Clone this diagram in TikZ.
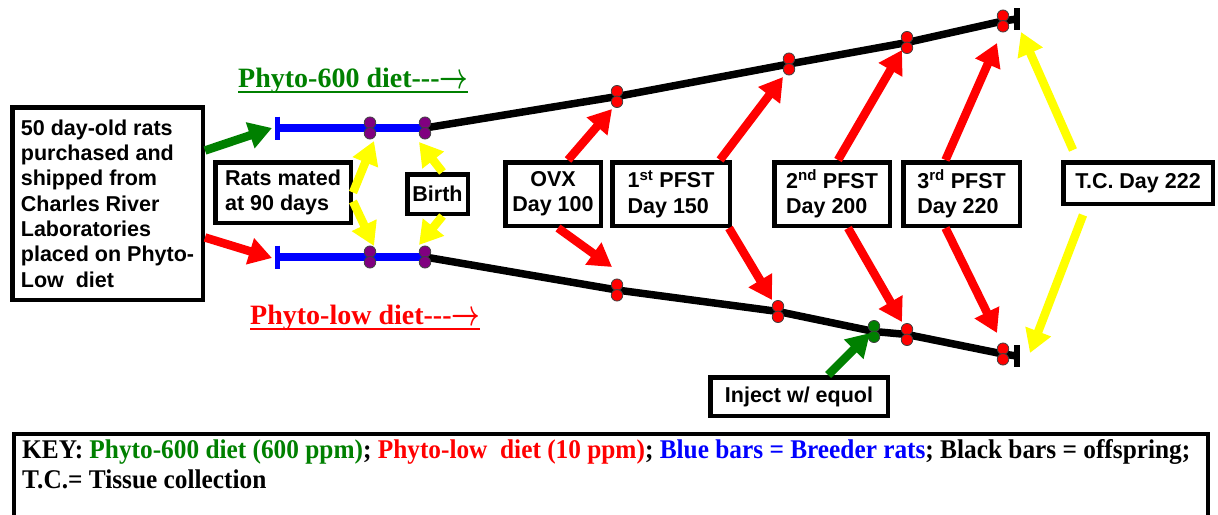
\documentclass[tikz,border=0pt]{standalone}
\usepackage{fontspec}
\setmainfont{Liberation Serif}
\newfontfamily\arialf{Liberation Sans}
\usepackage{graphicx}
\usetikzlibrary{arrows.meta,calc}
\definecolor{dgreen}{RGB}{0,128,0}
\definecolor{dpurple}{RGB}{128,0,128}
\definecolor{pyellow}{RGB}{255,255,0}
\definecolor{pred}{RGB}{255,0,0}
\definecolor{pblue}{RGB}{0,0,255}
\newcommand{\bigarr}{\raisebox{-1pt}{\scalebox{1.0}[1.45]{\boldmath$\rightarrow$}}}
\begin{document}
\begin{tikzpicture}[x=1pt,y=-1pt,
  box/.style={draw, line width=4.5pt, font=\arialf\bfseries\fontsize{21.5}{25.3}\selectfont, inner sep=0pt, align=left},
  fat/.style={line width=8.5pt, -{Triangle[length=23pt,width=26pt]}},
  timeline/.style={line width=7.5pt, line join=round},
  dotn/.style={circle, draw=black!75, line width=0.8pt, inner sep=0pt, minimum size=11.5pt},
  title/.style={inner sep=0pt, anchor=base west, font=\bfseries\fontsize{28}{30}\selectfont}
]
\useasboundingbox (0,0) rectangle (1218,514);

% boxes
\node[box, minimum width=190.5, minimum height=192.5] (left) at (107.5,203.5)
  {50 day-old rats\\purchased and\\shipped from\\Charles River\\Laboratories\\placed on Phyto-\\Low\ \ diet};
\node[box, minimum width=135.5, minimum height=60.5] (rats) at (283,192.5) {Rats mated\\at 90 days};
\node[box, minimum width=60.5, minimum height=39.5] (birth) at (437.5,194) {Birth};
\node[box, align=center, minimum width=95.5, minimum height=63.5] (ovx) at (553,194) {OVX\\Day 100};
\node[box, minimum width=117.5, minimum height=63.5] (p1) at (671,194) {1\textsuperscript{st} PFST\\Day 150};
\node[box, minimum width=115.5, minimum height=63.5] (p2) at (832,194) {2\textsuperscript{nd} PFST\\Day 200};
\node[box, minimum width=116.5, minimum height=63.5] (p3) at (961.5,194) {3\textsuperscript{rd} PFST\\Day 220};
\node[box, minimum width=149.5, minimum height=41.5] (tc) at (1138,183) {T.C. Day 222};
\node[box, align=center, minimum width=177.5, minimum height=38.5] (inj) at (799,396.5) {Inject w/ equol};

% titles
\node[title, text=dgreen] (t600) at (238,87) {Phyto-600 diet{-}{-}{-}\bigarr};
\draw[dgreen, line width=2pt] ([yshift=-4.5pt]t600.base west) -- ([yshift=-4.5pt]t600.base east);
\node[title, text=pred] (tlow) at (250,324) {Phyto-low diet{-}{-}{-}\bigarr};
\draw[pred, line width=2pt] ([yshift=-4.5pt]tlow.base west) -- ([yshift=-4.5pt]tlow.base east);

% timeline coordinates
\coordinate (bu) at (277,128); \coordinate (bl) at (277,257);
\coordinate (um) at (370,128); \coordinate (lm) at (370,257);
\coordinate (u0) at (425,128); \coordinate (u1) at (617,96.5); \coordinate (u2) at (789,64);
\coordinate (u3) at (907,42.5); \coordinate (u4) at (1003,21); \coordinate (uend) at (1017,19);
\coordinate (l0) at (425,257); \coordinate (l1) at (617,290); \coordinate (l2) at (778,311.5);
\coordinate (lg) at (874,331.5); \coordinate (l3) at (907,334.5); \coordinate (l4) at (1003,354);
\coordinate (lend) at (1017,356);

% blue bars
\draw[pblue, line width=7.5pt] (bu) -- (u0);
\draw[pblue, line width=7.5pt] (bl) -- (l0);
\draw[pblue, line width=5pt] ([yshift=11.5pt]bu) -- ([yshift=-11.5pt]bu);
\draw[pblue, line width=5pt] ([yshift=11.5pt]bl) -- ([yshift=-11.5pt]bl);

% black timelines
\draw[timeline] (u0) -- (u1) -- (u2) -- (u3) -- (u4) -- (uend);
\draw[timeline] (l0) -- (l1) -- (l2) -- (lg) -- (l3) -- (l4) -- (lend);
\draw[line width=6pt] ([yshift=11pt]uend) -- ([yshift=-11pt]uend);
\draw[line width=6pt] ([yshift=11pt]lend) -- ([yshift=-11pt]lend);

% dots
\foreach \c/\col in {um/dpurple, u0/dpurple, lm/dpurple, l0/dpurple, u1/pred, u2/pred, u3/pred, u4/pred, l1/pred, l2/pred, l3/pred, l4/pred, lg/dgreen}{
  \node[dotn, fill=\col] (\c-a) at ([yshift=5.3pt]\c) {};
  \node[dotn, fill=\col] (\c-b) at ([yshift=-5.3pt]\c) {};
}

% arrow tips
\coordinate (gt) at (272,128); \coordinate (rt) at (272,258);
\coordinate (y1) at (374,141); \coordinate (y2) at (374,246);
\coordinate (y3) at (419,142); \coordinate (y4) at (419,245);
\coordinate (r1) at (612,109); \coordinate (r2) at (612,267);
\coordinate (r3) at (783,77); \coordinate (r4) at (772,300);
\coordinate (r5) at (902,50); \coordinate (r6) at (902,322);
\coordinate (r7) at (997,43); \coordinate (r8) at (997,333);
\coordinate (y5) at (1021,32); \coordinate (y6) at (1030,353);
\coordinate (gi) at (870,333);

\draw[fat, dgreen] ([yshift=53pt]left.east) -- (gt);
\draw[fat, pred] ([yshift=-34pt]left.east) -- (rt);
\draw[fat, pyellow] ([yshift=0pt]rats.east) -- (y1);
\draw[fat, pyellow] ([yshift=-9pt]rats.east) -- (y2);
\draw[fat, pyellow] ([xshift=5pt]birth.north) -- (y3);
\draw[fat, pyellow] ([xshift=5pt]birth.south) -- (y4);
\draw[fat, pred] ([xshift=15pt]ovx.north) -- (r1);
\draw[fat, pred] ([xshift=5pt]ovx.south) -- (r2);
\draw[fat, pred] ([xshift=49pt]p1.north) -- (r3);
\draw[fat, pred] ([xshift=58pt]p1.south) -- (r4);
\draw[fat, pred] ([xshift=6pt]p2.north) -- (r5);
\draw[fat, pred] ([xshift=16pt]p2.south) -- (r6);
\draw[fat, pred] ([xshift=-16pt]p3.north) -- (r7);
\draw[fat, pred] ([xshift=-16pt]p3.south) -- (r8);
\draw[fat, pyellow] ([xshift=12pt,yshift=10pt]tc.north west) -- (y5);
\draw[fat, pyellow] ([xshift=22pt,yshift=-9pt]tc.south west) -- (y6);
\draw[fat, dgreen] ([xshift=29pt]inj.north) -- (gi);

% key
\node[draw, line width=4pt, anchor=north west, minimum width=1194, minimum height=92, inner sep=0pt] (key) at (12,432) {};
\node[anchor=north west, inner sep=0pt, font=\bfseries\fontsize{27}{30}\selectfont] (keytext) at (22,437)
  {\resizebox{1168pt}{\height}{\begin{tabular}{@{}l@{}}KEY: \textcolor{dgreen}{Phyto-600 diet (600 ppm)}; \textcolor{pred}{Phyto-low\ \ diet (10 ppm)}; \textcolor{pblue}{Blue bars = Breeder rats}; Black bars = offspring;\\T.C.= Tissue collection\end{tabular}}};
\end{tikzpicture}
\end{document}
